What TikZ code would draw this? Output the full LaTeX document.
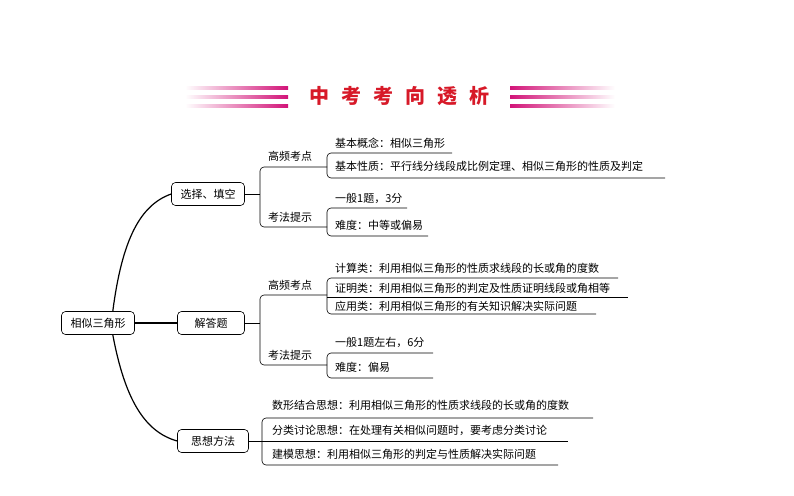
\documentclass[tikz,border=0pt]{standalone}
\usepackage{fontspec}
\setmainfont{Noto Sans CJK SC}
\usetikzlibrary{positioning}
\definecolor{tred}{RGB}{215,25,40}
\definecolor{tmag}{RGB}{210,20,120}
\tikzset{
  box/.style={draw,rounded corners=4pt,inner xsep=6pt,inner ysep=0pt,minimum height=23pt,font=\fontsize{11}{13}\selectfont,line width=0.6pt},
  lbl/.style={anchor=west,inner sep=0pt,font=\fontsize{11}{13}\selectfont},
  ln/.style={line width=0.6pt},
  br/.style={line width=0.6pt,rounded corners=4pt},
  stripe/.style={draw=none}
}
\begin{document}
\begin{tikzpicture}[x=1pt,y=-1pt]
\useasboundingbox[fill=white] (0,0) rectangle (794,495);
% title
\foreach \yy in {86,95,104}{
  \shade[left color=white,right color=tmag] (185,\yy) rectangle (288,\yy+3);
  \shade[left color=tmag,right color=white] (510,\yy) rectangle (615,\yy+3);
}
\node[text=tred,font=\fontsize{20}{22}\selectfont\bfseries] (title) at (399,96) {中\hspace{12pt}考\hspace{12pt}考\hspace{12pt}向\hspace{12pt}透\hspace{12pt}析};
% boxes
\node[box,minimum width=73pt] (root) at (98,323) {相似三角形};
\node[box,minimum width=73pt] (b1) at (208,194) {选择、填空};
\node[box,minimum width=67pt] (b2) at (211,323) {解答题};
\node[box,minimum width=71pt] (b3) at (213,441) {思想方法};
\draw[line width=1.2pt] (root.north east)++(-22,0) .. controls (122,240) and (140,205) .. (b1.west);
\draw[line width=1.2pt] (root.east) -- (b2.west);
\draw[line width=1.2pt] (root.south east)++(-22,0) .. controls (125,400) and (145,432) .. (b3.west);
% branch 1
\coordinate (j1) at (260,194);
\draw[ln] (b1.east) -- (j1);
\node[lbl] (g1) at (268,156) {高频考点};
\node[lbl] (k1) at (268,217) {考法提示};
\draw[br] (327,167) -- (260,167) -- (260,227) -- (327,227);
\node[lbl] (a1) at (335,143) {基本概念：相似三角形};
\node[lbl] (a2) at (335,166) {基本性质：平行线分线段成比例定理、相似三角形的性质及判定};
\draw[br] (452,153) -- (327,153) -- (327,178) -- (665,178);
\node[lbl] (a3) at (335,198) {一般1题，3分};
\node[lbl] (a4) at (335,225) {难度：中等或偏易};
\draw[br] (407,208) -- (327,208) -- (327,236) -- (428,236);
% branch 2
\draw[ln] (b2.east) -- (260,323);
\node[lbl] (g2) at (268,285) {高频考点};
\node[lbl] (k2) at (268,355) {考法提示};
\draw[br] (327,295) -- (260,295) -- (260,365) -- (327,365);
\node[lbl] (c1) at (335,268) {计算类：利用相似三角形的性质求线段的长或角的度数};
\node[lbl] (c2) at (335,288) {证明类：利用相似三角形的判定及性质证明线段或角相等};
\node[lbl] (c3) at (335,306) {应用类：利用相似三角形的有关知识解决实际问题};
\draw[br] (618,278) -- (327,278) -- (327,314) -- (596,314);
\draw[ln] (327,297) -- (628,297);
\node[lbl] (c4) at (335,342) {一般1题左右，6分};
\node[lbl] (c5) at (335,367) {难度：偏易};
\draw[br] (433,353) -- (327,353) -- (327,378) -- (433,378);
% branch 3
\draw[ln] (b3.east) -- (568,441);
\node[lbl] (d1) at (272,405) {数形结合思想：利用相似三角形的性质求线段的长或角的度数};
\node[lbl] (d2) at (272,430) {分类讨论思想：在处理有关相似问题时，要考虑分类讨论};
\node[lbl] (d3) at (272,454) {建模思想：利用相似三角形的判定与性质解决实际问题};
\draw[br] (593,418) -- (262,418) -- (262,465) -- (558,465);
\end{tikzpicture}
\end{document}
